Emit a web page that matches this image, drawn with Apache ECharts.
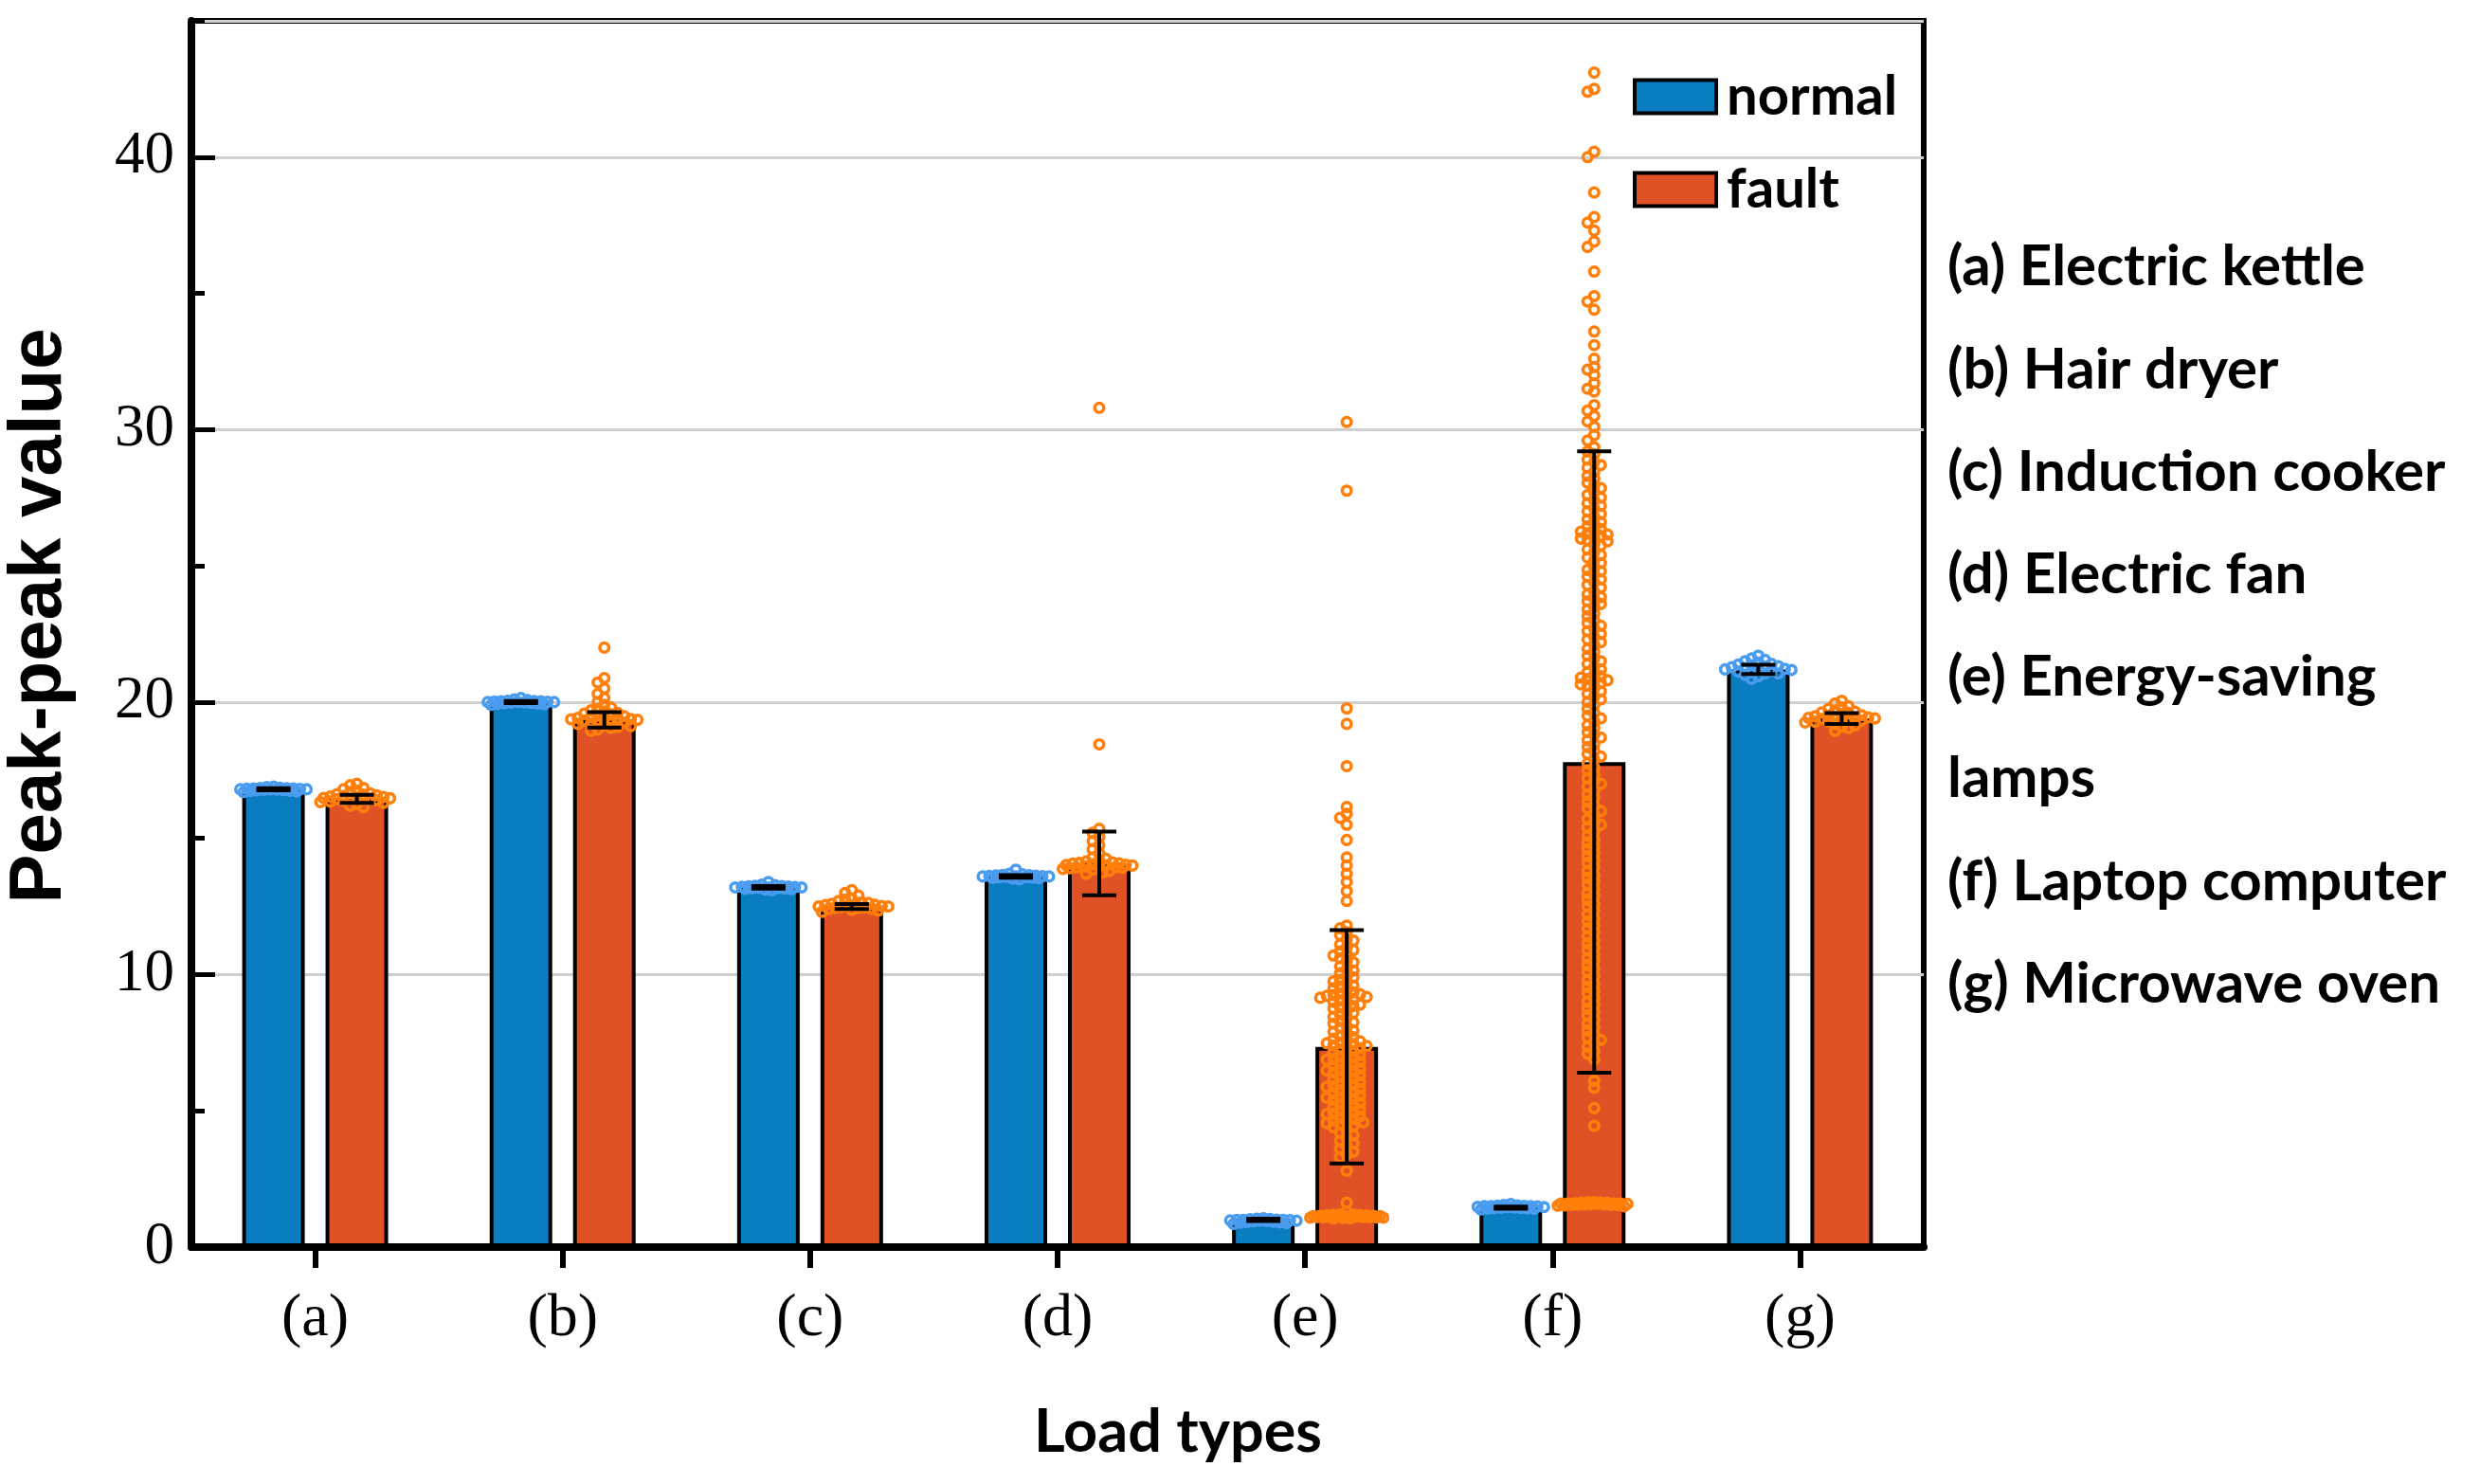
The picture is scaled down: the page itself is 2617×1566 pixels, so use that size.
<!DOCTYPE html>
<html>
<head>
<meta charset="utf-8">
<script src="https://cdn.jsdelivr.net/npm/echarts@6.0.0/dist/echarts.min.js"></script>
<style>
html,body{margin:0;padding:0;background:#fff;}
#chart{width:2617px;height:1566px;}
</style>
</head>
<body>
<div id="chart"></div>
<script>
// ---------------- data ----------------
const categories = ['(a)', '(b)', '(c)', '(d)', '(e)', '(f)', '(g)'];
const seriesNames = ['normal', 'fault'];
const loadNames = ['(a) Electric kettle', '(b) Hair dryer', '(c) Induction cooker', '(d) Electric fan',
  '(e) Energy-saving', 'lamps', '(f) Laptop computer', '(g) Microwave oven'];
const yAxisTitle = 'Peak-peak value';
const xAxisTitle = 'Load types';

const normalMean = [16.8, 20.0, 13.2, 13.6, 1.0, 1.45, 21.2];
const normalErr  = [0.04, 0.04, 0.05, 0.05, 0.04, 0.04, 0.17];
const faultMean  = [16.45, 19.35, 12.5, 14.08, 7.35, 17.8, 19.4];
const faultErr   = [0.15, 0.28, 0.09, 1.17, 4.28, 11.4, 0.2];

// individual samples
const normalA = [16.7, 16.74, 16.76, 16.78, 16.8, 16.8, 16.81, 16.83, 16.85, 16.77, 16.79, 16.82, 16.86, 16.88, 16.75, 16.84, 16.9, 16.72, 16.8, 16.83];
const normalB = [19.9, 19.92, 19.95, 19.97, 19.98, 20.0, 20.0, 20.02, 20.03, 20.05, 20.07, 20.1, 19.94, 19.96, 20.01, 20.04, 20.15, 19.99, 20.0, 20.03];
const normalC = [13.1, 13.12, 13.15, 13.17, 13.2, 13.2, 13.22, 13.24, 13.26, 13.28, 13.14, 13.18, 13.21, 13.25, 13.3, 13.4, 13.16, 13.23, 13.2, 13.19];
const normalD = [13.5, 13.52, 13.55, 13.57, 13.6, 13.6, 13.62, 13.64, 13.66, 13.68, 13.54, 13.58, 13.61, 13.65, 13.7, 13.85, 13.56, 13.63, 13.6, 13.59];
const normalE = [0.85, 0.88, 0.9, 0.92, 0.95, 0.97, 1.0, 1.0, 1.02, 1.04, 0.93, 0.96, 0.99, 1.01, 1.06, 0.91, 0.98, 1.03, 1.0, 0.97];
const normalF = [1.38, 1.4, 1.42, 1.44, 1.45, 1.47, 1.5, 1.5, 1.52, 1.55, 1.43, 1.46, 1.48, 1.51, 1.58, 1.41, 1.49, 1.53, 1.47, 1.5];
const normalG = [20.85, 20.95, 21.0, 21.05, 21.1, 21.15, 21.2, 21.2, 21.25, 21.3, 21.35, 21.4, 21.45, 21.5, 21.55, 21.6, 21.7, 21.12, 21.28, 21.38, 21.05, 21.22, 21.18, 21.32];

const faultA = [16.15, 16.2, 16.25, 16.3, 16.35, 16.38, 16.4, 16.42, 16.45, 16.45, 16.48, 16.5, 16.52, 16.55, 16.58, 16.6, 16.65, 16.7, 16.75, 16.8, 16.85, 16.95, 17.0, 16.33, 16.47, 16.62, 16.44, 16.53];
const faultB = [18.95, 19.0, 19.05, 19.1, 19.15, 19.2, 19.22, 19.25, 19.3, 19.32, 19.35, 19.35, 19.38, 19.4, 19.42, 19.45, 19.5, 19.55, 19.6, 19.65, 19.7, 19.75, 19.8, 19.9, 20.0, 20.15, 20.3, 20.5, 20.72, 20.88, 22.0, 19.28, 19.48, 19.12, 19.37, 19.58];
const faultC = [12.3, 12.35, 12.38, 12.4, 12.42, 12.45, 12.48, 12.5, 12.5, 12.52, 12.55, 12.58, 12.6, 12.63, 12.66, 12.7, 12.75, 12.8, 12.9, 13.0, 13.1, 12.44, 12.56, 12.47, 12.53];
const faultD = [13.7, 13.75, 13.8, 13.85, 13.88, 13.9, 13.93, 13.95, 13.97, 14.0, 14.0, 14.02, 14.05, 14.08, 14.1, 14.12, 14.15, 14.2, 14.25, 14.3, 14.45, 14.6, 14.75, 14.9, 15.05, 15.2, 15.35, 18.45, 30.8, 13.98, 14.07, 13.92, 14.03];
const faultE = [30.28, 27.76, 19.77, 19.2, 17.65, 16.15, 15.9, 15.75, 15.5, 14.94, 14.3, 14.0, 13.7, 13.4, 13.06, 12.7,
  11.8, 11.55, 11.3, 11.25, 11.0, 10.85, 10.7, 10.6, 10.45, 10.2, 10.15, 9.95, 9.8, 9.7, 9.55, 9.45, 9.3, 9.25, 9.2, 9.1,
  9.05, 8.95, 8.9, 8.8, 8.65, 8.6, 8.45, 8.3, 8.25, 8.1, 7.95, 7.9, 7.75, 7.6, 7.55, 7.45, 7.4, 7.3, 7.2, 7.15, 7.05,
  6.95, 6.85, 6.8, 6.7, 6.6, 6.55, 6.4, 6.35, 6.25, 6.1, 6.05, 5.95, 5.85, 5.75, 5.7, 5.6, 5.45, 5.4, 5.3, 5.2, 5.1,
  5.05, 4.95, 4.85, 4.7, 4.6, 4.55, 4.45, 4.3, 4.1, 3.9, 3.7, 3.5, 3.3, 2.8, 1.63, 1.3,
  11.7, 11.45, 11.1, 10.9, 10.75, 10.5, 10.3, 10.05, 9.9, 9.75, 9.6, 9.5, 9.35, 9.22, 9.15, 9.0, 8.85, 8.75, 8.55,
  8.4, 8.2, 8.05, 7.85, 7.7, 7.65, 7.5, 7.35, 7.25, 7.1, 7.0, 6.9, 6.75, 6.65, 6.5, 6.45, 6.3, 6.2, 6.15, 6.0, 5.9,
  5.8, 5.65, 5.55, 5.5, 5.35, 5.25, 5.15, 5.0, 4.9, 4.8, 4.75, 4.65, 4.5, 4.4, 4.2, 4.0, 3.8, 3.6, 3.4, 9.28, 9.18,
  7.48, 7.38, 6.88, 6.48, 5.88, 5.48, 4.88, 4.58,
  1.05, 1.1, 1.15, 1.2, 1.12, 1.08, 1.18, 1.1, 1.14, 1.06, 1.16, 1.1, 1.13, 1.09, 1.17, 1.11, 1.07, 1.15, 1.19, 1.12, 1.1, 1.14, 1.08, 1.16];
const faultF = [43.1, 42.5, 42.4, 40.2, 40.0, 38.7, 37.8, 37.6, 37.3, 36.9, 36.7, 35.8, 34.9, 34.7, 34.4, 33.6, 33.1,
  32.6, 32.3, 32.2, 32.0, 31.7, 31.5, 31.4, 30.9, 30.7, 30.5, 30.3, 30.1, 29.8, 29.6,
  29.35, 29.1, 28.9, 28.7, 28.45, 28.3, 28.05, 27.85, 27.6, 27.4, 27.2, 27.0, 26.8, 26.6, 26.45, 26.3, 26.2, 26.1,
  26.0, 25.9, 25.75, 25.6, 25.4, 25.2, 24.95, 24.8, 24.6, 24.4, 24.2, 23.95, 23.8, 23.6, 23.4, 23.15, 22.9, 22.7,
  22.5, 22.3, 22.1, 21.85, 21.6, 21.4, 21.2, 21.0, 20.9, 20.8, 20.7, 20.6, 20.4, 20.2, 20.0, 19.75, 19.5, 19.3,
  19.05, 18.8, 18.6, 18.35, 18.1, 17.9, 17.6, 17.35, 17.1, 16.9, 16.6, 16.35, 16.1, 15.85, 15.6, 15.4, 15.1, 14.85,
  14.6, 14.35, 14.1, 13.8, 13.55, 13.3, 13.0, 12.75, 12.5, 12.2, 11.95, 11.7, 11.4, 11.15, 10.9, 10.6, 10.35, 10.1,
  9.8, 9.55, 9.3, 9.0, 8.75, 8.5, 8.2, 7.95, 7.7, 7.5, 7.35, 7.2, 6.9, 6.1, 5.85, 5.1, 4.45,
  29.2, 28.8, 28.6, 28.2, 27.95, 27.7, 27.5, 27.3, 27.1, 26.9, 26.7, 26.55, 26.35, 26.25, 26.15, 26.05, 25.95, 25.8,
  25.5, 25.3, 25.1, 24.85, 24.7, 24.5, 24.3, 24.05, 23.85, 23.7, 23.5, 23.25, 23.0, 22.8, 22.6, 22.4, 22.2, 21.95,
  21.7, 21.5, 21.3, 21.1, 20.95, 20.85, 20.75, 20.65, 20.5, 20.3, 20.1, 19.9, 19.6, 19.4, 19.15, 18.9, 18.7, 18.45,
  18.2, 18.0, 17.75, 17.5, 17.2, 17.0, 16.75, 16.5, 16.2, 16.0, 15.7, 15.5, 15.25, 14.95, 14.7, 14.45, 14.2, 13.95,
  13.65, 13.4, 13.15, 12.9, 12.6, 12.35, 12.05, 11.8, 11.55, 11.25, 11.0, 10.75, 10.5, 10.2, 9.95, 9.65, 9.4, 9.15,
  8.9, 8.6, 8.35, 8.05, 7.8, 7.6, 7.1,
  1.5, 1.55, 1.6, 1.62, 1.58, 1.52, 1.65, 1.57, 1.6, 1.54, 1.63, 1.59, 1.56, 1.61, 1.53, 1.64, 1.58, 1.6, 1.55, 1.62, 1.57, 1.6];
const faultG = [18.95, 19.05, 19.1, 19.15, 19.2, 19.25, 19.3, 19.32, 19.35, 19.38, 19.4, 19.4, 19.42, 19.45, 19.48, 19.5, 19.55, 19.6, 19.65, 19.7, 19.75, 19.8, 19.85, 19.95, 20.05, 19.28, 19.52, 19.36, 19.44, 19.62];

const normalPoints = [normalA, normalB, normalC, normalD, normalE, normalF, normalG];
const faultPoints = [faultA, faultB, faultC, faultD, faultE, faultF, faultG];

// ---------------- styling ----------------
const BLUE = '#0a7dc0', RED = '#e05226';
const BLUE_PT = '#4a9cef', ORANGE_PT = '#ff7f0a';
const BAR_W = 66, BAR_OFF = 44;

// simple deterministic beeswarm: spread overlapping samples sideways
function swarm(ys, step, minD, maxW) {
  const order = ys.map((y, i) => i).sort((a, b) => ys[a] - ys[b] || a - b);
  const placed = [];
  const offs = new Array(ys.length).fill(0);
  for (const i of order) {
    let bestX = 0, bestD = -1;
    for (let k = 0; ; k++) {
      const m = Math.ceil(k / 2);
      if (m * step > maxW) break;
      const x = (k % 2 === 1 ? -1 : 1) * m * step;
      let d = Infinity;
      for (const p of placed) {
        const dy = ys[i] - p.y;
        if (Math.abs(dy) >= minD) continue;
        const dx = x - p.x;
        d = Math.min(d, Math.sqrt(dx * dx + dy * dy));
      }
      if (d >= minD) { bestX = x; bestD = d; break; }
      if (d > bestD) { bestD = d; bestX = x; }
    }
    offs[i] = bestX;
    placed.push({ x: bestX, y: ys[i] });
  }
  return offs;
}

function pointSeries(name, groups, side, color) {
  const data = [];
  groups.forEach((arr, c) => arr.forEach((v, j) => data.push([c, v, j])));
  const cache = {};
  return {
    type: 'custom', name, z: 4, silent: true, data,
    encode: { x: 0, y: 1 },
    renderItem(params, api) {
      const c = api.value(0), j = api.value(2);
      const base = api.coord([c, 0]);
      const key = base[0] + ',' + base[1] + ',' + api.coord([c, 10])[1];
      let L = cache[c];
      if (!L || L.key !== key) {
        const ys = groups[c].map(v => api.coord([c, v])[1]);
        L = cache[c] = { key, ys, offs: swarm(ys, 3.5, 7, 40) };
      }
      return {
        type: 'circle',
        shape: { cx: base[0] + side * BAR_OFF + L.offs[j], cy: L.ys[j], r: 4.8 },
        style: { fill: 'none', stroke: color, lineWidth: 3.5 }
      };
    }
  };
}

function errorSeries(name, means, errs, side) {
  return {
    type: 'custom', name, z: 5, silent: true,
    data: means.map((m, i) => [i, m - errs[i], m + errs[i]]),
    encode: { x: 0, y: [1, 2] },
    renderItem(params, api) {
      const i = api.value(0);
      const lo = api.coord([i, api.value(1)]);
      const hi = api.coord([i, api.value(2)]);
      const x = lo[0] + side * BAR_OFF;
      const hw = 18;
      const st = { stroke: '#000', lineWidth: 4 };
      return {
        type: 'group', children: [
          { type: 'line', shape: { x1: x, y1: lo[1], x2: x, y2: hi[1] }, style: st },
          { type: 'line', shape: { x1: x - hw, y1: lo[1], x2: x + hw, y2: lo[1] }, style: st },
          { type: 'line', shape: { x1: x - hw, y1: hi[1], x2: x + hw, y2: hi[1] }, style: st }
        ]
      };
    }
  };
}

const listY = [282, 391, 499, 607, 715, 822, 931, 1039];
const graphics = [
  { type: 'text', x: 42, y: 650, rotation: Math.PI / 2,
    style: { text: yAxisTitle, fontFamily: 'Liberation Sans', fontWeight: 'bold', fontSize: 78, fill: '#000', align: 'center', verticalAlign: 'middle' } },
  { type: 'text', x: 1243, y: 1512,
    style: { text: xAxisTitle, fontFamily: 'Lato', fontWeight: 'bold', fontSize: 63, fill: '#000', align: 'center', verticalAlign: 'middle' } }
];
loadNames.forEach((t, i) => graphics.push({
  type: 'text', x: 2055, y: listY[i],
  style: { text: t, fontFamily: 'Lato', fontWeight: 'bold', fontSize: 60, fill: '#000', align: 'left', verticalAlign: 'middle' }
}));

const chart = echarts.init(document.getElementById('chart'));
chart.setOption({
  animation: false,
  backgroundColor: '#fff',
  grid: { left: 202, top: 22, width: 1828, height: 1294, show: true, borderColor: '#000', borderWidth: 6, backgroundColor: 'transparent' },
  legend: {
    data: seriesNames, orient: 'vertical', left: 1718, top: 66, icon: 'rect',
    itemWidth: 86, itemHeight: 35, itemGap: 36, selectedMode: false,
    itemStyle: { borderColor: '#000', borderWidth: 4 },
    textStyle: { fontFamily: 'Lato', fontWeight: 'bold', fontSize: 58, color: '#000', lineHeight: 62, padding: [0, 0, 0, 6] }
  },
  xAxis: {
    type: 'category', data: categories,
    axisLine: { show: true, lineStyle: { color: '#000', width: 8 } },
    axisTick: { show: true, alignWithLabel: true, inside: false, length: 22, lineStyle: { color: '#000', width: 6 } },
    axisLabel: { fontFamily: 'Liberation Serif', fontSize: 64, color: '#000', margin: 44 },
    splitLine: { show: false }
  },
  yAxis: [{
    type: 'value', min: 0, max: 45, interval: 10,
    axisLine: { show: true, lineStyle: { color: '#000', width: 8 } },
    axisTick: { show: true, inside: true, length: 25, lineStyle: { color: '#000', width: 5 } },
    axisLabel: { showMaxLabel: false, fontFamily: 'Liberation Serif', fontSize: 63, color: '#000', margin: 18 },
    splitLine: { show: true, lineStyle: { color: '#cfcfcf', width: 3 } }
  }, {
    type: 'value', min: 0, max: 45, interval: 5, position: 'left',
    axisLine: { show: false },
    axisTick: { show: true, inside: true, length: 14, lineStyle: { color: '#000', width: 5 } },
    axisLabel: { show: false }, splitLine: { show: false }
  }],
  series: [
    { type: 'bar', name: 'normal', data: normalMean, barWidth: BAR_W, barGap: '33.3%', z: 2,
      itemStyle: { color: BLUE, borderColor: '#000', borderWidth: 4 } },
    { type: 'bar', name: 'fault', data: faultMean, barWidth: BAR_W, barGap: '33.3%', z: 2,
      itemStyle: { color: RED, borderColor: '#000', borderWidth: 4 } },
    pointSeries('normal samples', normalPoints, -1, BLUE_PT),
    pointSeries('fault samples', faultPoints, 1, ORANGE_PT),
    errorSeries('normal error', normalMean, normalErr, -1),
    errorSeries('fault error', faultMean, faultErr, 1)
  ],
  graphic: graphics
});
</script>
</body>
</html>
